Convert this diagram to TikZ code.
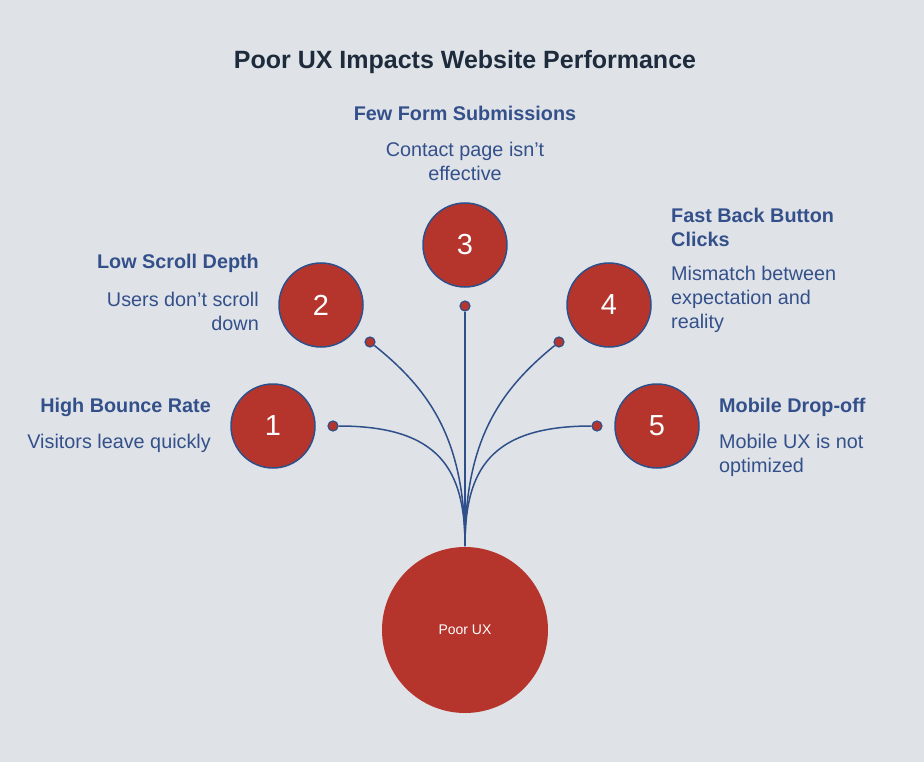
\documentclass[tikz,border=0pt]{standalone}
\usepackage{fontspec}
\setmainfont{Liberation Sans}
\definecolor{bg}{HTML}{DFE3E8}
\definecolor{rd}{HTML}{B5352D}
\definecolor{bl}{HTML}{2F4F8A}
\definecolor{tx}{HTML}{34508A}
\definecolor{ttl}{HTML}{1E2B3C}
\newcommand{\apos}{{\char"27}}
\begin{document}
\begin{tikzpicture}[x=1pt,y=-1pt,
  num/.style={circle,fill=rd,draw=bl,line width=1.5pt,minimum size=84pt,inner sep=0pt,text=white,font=\fontsize{29}{32}\selectfont},
  dot/.style={circle,fill=rd,draw=bl,line width=1.2pt,minimum size=10pt,inner sep=0pt},
  hd/.style={text=tx,font=\fontsize{19.8}{24}\selectfont\bfseries,inner sep=0pt},
  ds/.style={text=tx,font=\fontsize{19.8}{24}\selectfont,inner sep=0pt},
  cn/.style={draw=bl,line width=1.5pt}]
\fill[bg] (0,0) rectangle (924,762);
\useasboundingbox (0,0) rectangle (924,762);
\node[text=ttl,font=\fontsize{25}{28}\selectfont\bfseries] (t) at (465,62) {Poor UX Impacts Website Performance};
\node[circle,fill=rd,minimum size=166pt,inner sep=0pt,text=white,font=\fontsize{14}{16}\selectfont] (p) at (465,630) {Poor UX};
\coordinate (top) at (465,546);
\node[num] (n1) at (273,426) {1};
\node[num] (n2) at (321,305) {2};
\node[num] (n3) at (465,245) {3};
\node[num] (n4) at (609,305) {4};
\node[num] (n5) at (657,426) {5};
\node[dot] (d1) at (333,426) {};
\node[dot] (d2) at (370,342) {};
\node[dot] (d3) at (465,306) {};
\node[dot] (d4) at (559,342) {};
\node[dot] (d5) at (597,426) {};
\draw[cn] (d1) .. controls (440,426) and (465,470) .. (top);
\draw[cn] (d2) .. controls (430,390) and (465,440) .. (top);
\draw[cn] (d3) -- (top);
\draw[cn] (d4) .. controls (500,390) and (465,440) .. (top);
\draw[cn] (d5) .. controls (490,426) and (465,470) .. (top);
\node[hd,anchor=east] (h1) at (211,407) {High Bounce Rate};
\node[ds,anchor=east] (s1) at (211,443) {Visitors leave quickly};
\node[hd,anchor=east] (h2) at (259,263) {Low Scroll Depth};
\node[ds,anchor=east,align=right] (s2) at (259,311) {Users don\apos t scroll\\down};
\node[hd] (h3) at (465,113) {Few Form Submissions};
\node[ds,align=center] (s3) at (465,161) {Contact page isn\apos t\\effective};
\node[hd,anchor=west,align=left] (h4) at (671,227) {Fast Back Button\\Clicks};
\node[ds,anchor=west,align=left] (s4) at (671,299) {Mismatch between\\expectation and\\reality};
\node[hd,anchor=west] (h5) at (719,407) {Mobile Drop-off};
\node[ds,anchor=west,align=left] (s5) at (719,455) {Mobile UX is not\\optimized};
\end{tikzpicture}
\end{document}
